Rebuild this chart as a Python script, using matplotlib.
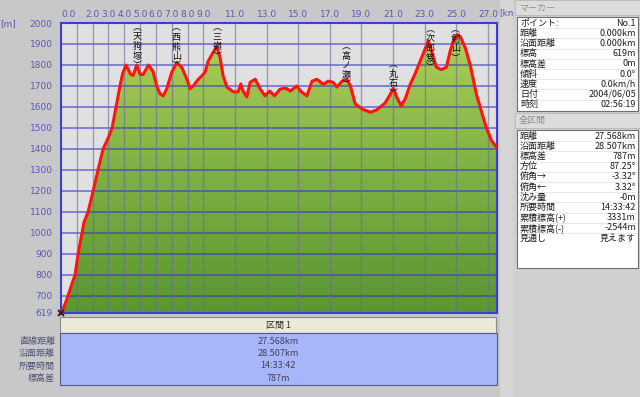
import matplotlib
matplotlib.use('Agg')
import matplotlib.pyplot as plt
import numpy as np
from matplotlib.patches import Rectangle, PathPatch
from matplotlib.path import Path
from matplotlib.colors import LinearSegmentedColormap
from matplotlib.transforms import blended_transform_factory

plt.rcParams['font.family'] = ['Noto Sans CJK JP', 'DejaVu Sans']

# ---------------- data ----------------
dist_km = [0, 0.25, 0.44, 0.7, 0.89, 1.08, 1.33, 1.45, 1.71, 2.03, 2.34, 2.66, 2.97, 3.23, 3.48,
           3.73, 3.9, 4.11, 4.41, 4.56, 4.79, 5.0, 5.2, 5.53, 5.82, 6.05, 6.27, 6.46, 6.69, 7.0,
           7.32, 7.64, 7.96, 8.16, 8.36, 8.68, 8.9, 9.11, 9.3, 9.6, 9.85, 10.06, 10.25, 10.49, 10.9,
           11.2, 11.37, 11.5, 11.75, 11.96, 12.28, 12.6, 12.9, 13.2, 13.5, 13.85, 14.2, 14.5, 14.9, 15.2,
           15.55, 15.87, 16.18, 16.6, 16.9, 17.2, 17.45, 17.77, 18.08, 18.3, 18.6, 19.05, 19.56, 19.94, 20.19,
           20.5, 20.82, 21.01, 21.27, 21.52, 21.77, 22.09, 22.4, 22.72, 23.04, 23.23, 23.42, 23.73, 24.05, 24.37,
           24.62, 24.87, 25.06, 25.25, 25.57, 25.89, 26.27, 26.58, 26.9, 27.22, 27.53]
elev_m = [619, 660, 700, 760, 800, 900, 1000, 1050, 1100, 1200, 1300, 1400, 1450, 1500, 1600,
          1700, 1760, 1800, 1755, 1750, 1800, 1755, 1755, 1800, 1770, 1700, 1662, 1653, 1687, 1765,
          1812, 1788, 1732, 1687, 1700, 1732, 1748, 1765, 1817, 1858, 1888, 1835, 1748, 1695, 1672,
          1672, 1710, 1677, 1648, 1718, 1732, 1685, 1653, 1676, 1653, 1685, 1690, 1676, 1700, 1672,
          1653, 1723, 1732, 1708, 1723, 1718, 1695, 1723, 1732, 1700, 1615, 1590, 1575, 1585, 1600,
          1620, 1660, 1690, 1640, 1605, 1640, 1710, 1760, 1820, 1880, 1915, 1870, 1790, 1778, 1790,
          1870, 1925, 1945, 1935, 1880, 1795, 1660, 1580, 1500, 1440, 1410]
total_km = 27.568

x_ticks = [0, 2, 3, 4, 5, 6, 7, 8, 9, 11, 13, 15, 17, 19, 21, 23, 25, 27]
x_grid = [1, 2, 3, 4, 5, 6, 7, 8, 9, 11, 13, 15, 17, 19, 21, 23, 25, 27]
y_ticks = [619, 700, 800, 900, 1000, 1100, 1200, 1300, 1400, 1500, 1600, 1700, 1800, 1900, 2000]

peak_names = ['天狗塚', '西熊山', '三嶺', '高ノ瀬', '丸石', '次郎笈', '剣山']
peak_km = [4.81, 7.28, 9.87, 18.04, 21.0, 23.35, 24.94]
peak_top_px = [23, 23, 23, 42, 60, 25, 25]

marker_title = 'マーカー'
marker_labels = ['ポイント:', '距離', '沿面距離', '標高', '標高差', '傾斜', '速度', '日付', '時刻']
marker_values = ['No.1', '0.000km', '0.000km', '619m', '0m', '0.0°', '0.0km/h', '2004/06/05', '02:56:19']
total_title = '全区間'
total_labels = ['距離', '沿面距離', '標高差', '方位', '俯角→', '俯角←', '沈み量', '所要時間',
                '累積標高(+)', '累積標高(-)', '見通し']
total_values = ['27.568km', '28.507km', '787m', '87.25°', '-3.32°', '3.32°', '-0m', '14:33:42',
                '3331m', '-2544m', '見えます']
section_title = '区間 1'
section_labels = ['直線距離', '沿面距離', '所要時間', '標高差']
section_values = ['27.568km', '28.507km', '14:33:42', '787m']

# ---------------- figure ----------------
W, H = 640, 397
fig = plt.figure(figsize=(W / 100, H / 100), dpi=100, facecolor='#c8c8c8')


def box(x, y, w, h):
    return [x / W, 1 - (y + h) / H, w / W, h / H]


def rect(x, y, w, h, z=1, **kw):
    r = Rectangle((x / W, 1 - (y + h) / H), w / W, h / H, transform=fig.transFigure, zorder=z, **kw)
    fig.add_artist(r)


def ftext(x, y, s, z=3, **kw):
    fig.text(x / W, 1 - y / H, s, zorder=z, **kw)


# main plot
ax = fig.add_axes(box(61, 23, 436, 290))
ax.set_facecolor('#e0e0e0')
ax.set_xlim(0, total_km)
ax.set_ylim(y_ticks[0], y_ticks[-1])

cmap = LinearSegmentedColormap.from_list('g', ['#5a9632', '#7fb244', '#b2d05a'])
grad = np.linspace(0, 1, 256).reshape(-1, 1)
im = ax.imshow(grad, extent=[0, total_km, y_ticks[0], y_ticks[-1]], origin='lower',
               aspect='auto', cmap=cmap, zorder=1, interpolation='bilinear')
verts = list(zip(dist_km, elev_m)) + [(dist_km[-1], y_ticks[0]), (dist_km[0], y_ticks[0])]
clip = PathPatch(Path(verts), transform=ax.transData, facecolor='none', edgecolor='none')
ax.add_patch(clip)
im.set_clip_path(clip)

for yv in y_ticks[1:-1]:
    ax.axhline(yv, color='#3434c8', lw=1.1, alpha=0.7, zorder=2)
for xv in x_grid:
    ax.axvline(xv, color='#6a6a9a', lw=1.0, alpha=0.6, zorder=2)

ax.plot(dist_km, elev_m, color='#ff1414', lw=2.2, zorder=4, solid_joinstyle='round')
ax.plot([dist_km[0]], [elev_m[0]], marker='x', color='#402020', ms=5, mew=1.5, zorder=5, clip_on=False)

for s in ax.spines.values():
    s.set_color('#3c3cd8')
    s.set_linewidth(1.5)

ax.set_yticks(y_ticks)
ax.set_yticklabels([str(v) for v in y_ticks])
ax.xaxis.tick_top()
ax.set_xticks(x_ticks)
ax.set_xticklabels([f'{v:.1f}' for v in x_ticks])
ax.tick_params(axis='y', length=0, pad=6, labelsize=6.5, labelcolor='#5a5ab4')
ax.tick_params(axis='x', length=0, pad=3, labelsize=6.5, labelcolor='#5a5ab4')
for lbl in ax.get_yticklabels():
    lbl.set_family(['DejaVu Sans'])
for lbl in ax.get_xticklabels():
    lbl.set_family(['DejaVu Sans'])
ax.get_xticklabels()[0].set_ha('left')

ftext(8, 24, '[m]', ha='center', va='center', fontsize=6.5, color='#5a5ab4', family=['DejaVu Sans'])
ftext(499, 13, '[km]', z=2, ha='left', va='center', fontsize=6.5, color='#5a5ab4', family=['DejaVu Sans'])

tr = blended_transform_factory(ax.transData, fig.transFigure)
for name, km, top in zip(peak_names, peak_km, peak_top_px):
    s = '\n'.join('︵' + name + '︶')
    ax.text(km, 1 - top / H, s, transform=tr, ha='center', va='top', fontsize=6.5,
            color='#101010', linespacing=1.08, zorder=6, clip_on=False)

# bottom section table
rect(60, 317, 436, 16, z=1, facecolor='#ece9d8', edgecolor='#8a8a8a', lw=0.8)
ftext(278, 325.5, section_title, ha='center', va='center', fontsize=6.5, color='#303030')
rect(60, 333, 437, 52, z=1, facecolor='#a6b6f8', edgecolor='#505a90', lw=0.8)
for i, (lab, val) in enumerate(zip(section_labels, section_values)):
    yy = 341 + i * 12.5
    ftext(278, yy, val, ha='center', va='center', fontsize=6.5, color='#40405a')
    ftext(55, yy, lab, ha='right', va='center', fontsize=6.5, color='#50507a')

# right panel
rect(500, 0, 13, H, z=1, facecolor='#d6d6d6', edgecolor='none')
rect(513, 0, 127, H, z=2.5, facecolor='#d0d0d0', edgecolor='none')


def section(title, ytop, labels, values, row_h=10.2, extra=0):
    rect(515, ytop, 125, 15, z=2.6, facecolor='#dcdcdc', edgecolor='#b8b8b8', lw=0.6)
    ftext(519, ytop + 7.5, title, z=3, ha='left', va='center', fontsize=6.5, color='#909090')
    t0 = ytop + 17
    n = len(labels)
    rect(517, t0, 121, n * row_h + 2 + extra, z=2.6, facecolor='white', edgecolor='#707070', lw=0.8)
    for i, (lab, val) in enumerate(zip(labels, values)):
        yc = t0 + 1 + row_h * (i + 0.5)
        ftext(520, yc, lab, z=3, ha='left', va='center', fontsize=6.5, color='#202020')
        ftext(636, yc, val, z=3, ha='right', va='center', fontsize=6.5, color='#202020')
        if i > 0:
            yl = t0 + 1 + row_h * i
            fig.add_artist(plt.Line2D([518 / W, 637 / W], [1 - yl / H, 1 - yl / H],
                                      transform=fig.transFigure, color='#e4e4e4', lw=0.6, zorder=2.7))


section(marker_title, 0, marker_labels, marker_values)
section(total_title, 113, total_labels, total_values, extra=24)

fig.savefig('out.png', dpi=100, facecolor=fig.get_facecolor())
